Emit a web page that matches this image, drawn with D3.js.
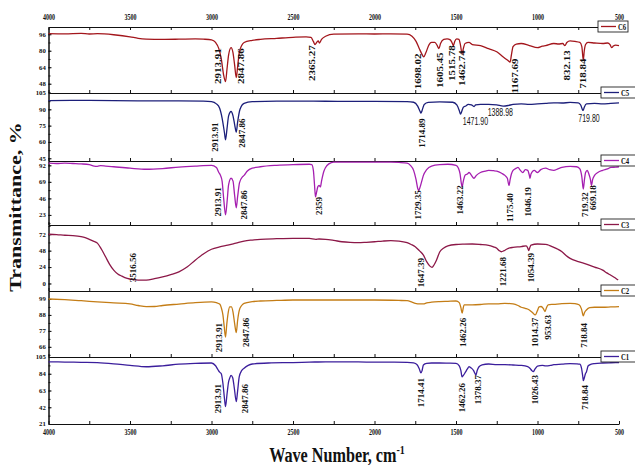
<!DOCTYPE html>
<html>
<head>
<meta charset="utf-8">
<script src="https://d3js.org/d3.v7.min.js"></script>
<style>
  body { margin: 0; background: #fff; }
  svg text { font-family: "Liberation Serif", "Times New Roman", serif; font-weight: bold; fill: #111; }
  .axis path, .axis line { stroke: #111; stroke-width: 1; }
</style>
</head>
<body>
<svg id="chart" width="635" height="465"></svg>
<script>
// wave number ticks (top + bottom axes)
var wnTicks = [4000, 3500, 3000, 2500, 2000, 1500, 1000, 500];

// ---- C6 ----
var c6Ticks = [48, 64, 80, 96];
var c6Domain = [39, 103];
var c6Data = [[4000,96.5],[3900,96.3],[3800,96.8],[3750,96.2],[3700,96.5],[3600,95.5],[3500,93.5],[3450,92],[3400,91.3],[3300,91],[3200,91.2],[3100,91.5],[3050,91.2],[3000,90.5],[2975,88],[2955,82],[2940,72],[2925,56],[2914,50],[2905,62],[2895,76],[2880,83],[2868,78],[2858,66],[2848,54],[2840,64],[2830,78],[2815,85],[2800,88],[2750,90],[2700,91],[2600,92],[2500,93],[2420,93.5],[2390,93],[2375,89],[2365,86],[2355,88],[2345,89.5],[2338,87.5],[2325,91],[2300,94],[2250,96],[2100,96.3],[2000,96.2],[1900,96.3],[1800,96],[1770,94],[1745,89],[1725,82],[1710,77],[1698,74],[1685,78],[1665,86],[1650,88],[1630,88],[1615,85],[1605,82],[1595,87],[1575,91],[1555,91.5],[1535,90.5],[1525,88],[1516,85],[1508,89],[1495,91.5],[1482,91],[1472,85],[1463,77],[1455,82],[1445,87],[1420,88],[1400,86],[1350,85],[1300,82],[1250,79],[1210,74],[1185,71],[1168,69],[1160,76],[1150,84],[1130,86.5],[1100,87],[1050,85],[1000,83],[970,84.5],[950,85],[900,87],[870,86.5],[845,87],[832,85],[820,88],[800,89.5],[770,89],[740,88],[728,84],[719,71],[713,80],[705,86],[690,88],[650,87.5],[600,87],[570,87.5],[555,86],[545,83],[535,84.5],[520,85.5],[500,85]];
// [label, anchor wave number, anchor transmittance]
var c6Peaks = [["2913.91",2956,82.3],["2847.86",2818,82.3],["2365.27",2379,85.3],["1698.02",1734,77.4],["1605.45",1599,78.4],["1515.78",1525,85.3],["1462.74",1464,80.4],["1167.69",1139,72.5],["832.13",819,80.4],["718.84",721,72.5]];

// ---- C5 ----
var c5Ticks = [45, 60, 75, 90, 105];
var c5Domain = [42.5, 105];
var c5Data = [[4000,98],[3800,98.2],[3600,98],[3400,97.8],[3200,97.8],[3050,97.5],[3000,97],[2970,95],[2950,91],[2935,82],[2920,68],[2914,62],[2905,72],[2895,84],[2880,88],[2868,84],[2858,76],[2848,69],[2840,78],[2825,90],[2800,95.5],[2750,97],[2600,97.5],[2400,97.5],[2200,97.3],[2000,97.3],[1800,97],[1760,96.5],[1735,93],[1720,88],[1715,86.5],[1708,89],[1695,94.5],[1670,96.3],[1600,96.8],[1520,96.5],[1495,94],[1480,89],[1472,85.5],[1465,88],[1455,92],[1440,93],[1425,94.5],[1405,94],[1395,93],[1389,92.5],[1380,94],[1350,94.5],[1300,94.5],[1250,94],[1210,93],[1180,93.5],[1150,94.5],[1100,95],[1050,94.5],[1000,95],[950,95.5],[900,96],[850,95.8],[800,96.3],[750,96],[735,94],[725,90],[720,89],[713,92],[700,95],[650,95.5],[600,95],[550,95.5],[500,96]];
var c5Peaks = [["2913.91",2975,78],["2847.86",2809,81.5],["1714.89",1710,81.5]];
var c5Notes = [["1471.90",1381,79.2],["1388.98",1228,87],["719.80",684,81.5]];

// ---- C4 ----
var c4Ticks = [23, 46, 69, 92];
var c4Domain = [9, 98];
var c4Data = [[4000,95],[3950,94.5],[3900,95],[3850,94.5],[3800,94],[3750,93],[3720,91],[3700,90.6],[3680,91.5],[3650,91],[3600,90],[3500,88],[3400,86.5],[3300,87.5],[3200,89.6],[3100,91],[3000,92],[2970,89],[2955,82],[2945,78],[2935,70],[2925,45],[2914,23],[2905,40],[2895,65],[2880,74],[2868,70],[2858,50],[2848,33],[2840,48],[2828,68],[2810,76],[2800,78],[2780,84],[2750,88],[2700,90],[2600,92],[2500,93],[2400,93.5],[2385,93],[2375,85],[2368,65],[2362,48],[2355,55],[2348,62],[2340,64],[2332,62],[2325,70],[2310,84],[2300,89],[2280,94],[2250,96.5],[2100,96.5],[2000,96.3],[1900,96.5],[1850,96],[1800,95],[1780,92],[1760,85],[1745,72],[1735,60],[1729,57],[1720,62],[1710,70],[1700,78],[1680,86],[1650,91],[1600,93],[1550,93.5],[1500,92],[1485,88],[1475,80],[1468,68],[1463,62],[1455,70],[1445,78],[1430,80],[1420,82],[1405,78],[1390,74],[1375,78],[1350,82],[1320,84],[1300,85],[1270,84.5],[1250,84],[1220,81],[1200,78],[1185,74],[1175,64],[1168,72],[1160,80],[1150,85],[1130,88],[1120,89],[1105,85],[1090,82],[1075,86],[1060,85],[1050,78],[1046,74],[1040,80],[1020,85],[1000,82],[980,86],[950,88],[925,86],[900,85],[875,87],[850,89],[800,90.5],[760,90],[740,87],[728,76],[719,59],[712,72],[705,82],[695,85],[685,80],[675,72],[669,64],[662,72],[650,78],[630,82],[600,85],[570,87],[550,89],[520,89.5],[500,90]];
var c4Peaks = [["2913.91",2962,61.6],["2847.86",2797,57.5],["2359",2342,47.8],["1729.35",1732,57.5],["1463.22",1472,64.4],["1175.40",1169,53.3],["1046.19",1057,61.6],["719.32",709,54.7],["669.18",658,64.4]];

// ---- C3 ----
var c3Ticks = [0, 24, 48, 72];
var c3Domain = [-11, 85.5];
var c3Data = [[4000,72],[3950,71.5],[3900,70.5],[3850,70],[3800,68.5],[3775,67],[3750,64.6],[3725,62],[3700,59],[3675,50],[3650,39],[3625,28],[3600,19.5],[3575,14],[3550,10.7],[3517,7.3],[3480,5.5],[3450,4.8],[3400,5],[3350,7],[3300,9.7],[3250,13],[3200,17],[3150,24],[3100,34],[3050,43],[3000,50],[2950,53.5],[2900,56],[2850,59],[2800,62],[2750,63.5],[2700,64.6],[2600,65.5],[2500,66],[2400,65.8],[2360,64.5],[2340,65],[2300,64.6],[2250,63],[2200,61],[2150,60],[2100,59.6],[2050,60.2],[2000,61],[1950,62],[1900,62.6],[1850,62],[1800,59.6],[1775,57],[1750,53.8],[1725,48],[1700,41.5],[1680,32],[1660,25.4],[1647,23.5],[1635,27],[1620,34],[1600,46],[1575,52],[1550,55],[1500,57],[1450,57.5],[1400,57.7],[1350,57],[1300,55.8],[1270,53.5],[1250,51.4],[1235,48],[1222,46.4],[1205,48],[1190,50],[1170,52],[1150,52.8],[1100,54],[1070,55],[1060,52],[1054,48],[1048,52],[1040,56],[1000,57.7],[950,57.3],[925,55.5],[900,52.8],[875,50],[850,46.4],[825,41],[800,36.7],[750,32],[700,28.3],[650,24],[600,19.5],[575,15.5],[550,12],[530,9],[510,5.8],[505,5]];
var c3Peaks = [["3516.56",3482,44.5],["1647.39",1712,37.2],["1221.68",1210,38.6],["1054.39",1036,44.5]];

// ---- C2 ----
var c2Ticks = [66, 77, 88, 99];
var c2Domain = [59, 104.5];
var c2Data = [[4000,99],[3900,98.5],[3800,97.8],[3700,97],[3600,96.3],[3500,95.6],[3450,94.5],[3400,93.7],[3350,93.8],[3300,94.5],[3200,95.5],[3100,96.5],[3000,97],[2970,96.5],[2950,95.5],[2940,93],[2930,88],[2922,80],[2914,72.7],[2906,82],[2897,90],[2888,93.5],[2878,93.5],[2868,90],[2858,82],[2848,75.8],[2840,84],[2830,91],[2815,94.5],[2800,96],[2750,97.2],[2700,97.6],[2600,98],[2500,98.3],[2400,98.3],[2200,98.3],[2000,98.3],[1850,98],[1800,97.8],[1770,96.8],[1750,96],[1720,95.6],[1700,95.6],[1680,96.3],[1650,96.8],[1600,97.2],[1550,97.4],[1500,97.6],[1480,96.5],[1470,93],[1462,89.2],[1457,92],[1450,95],[1400,95],[1350,95.2],[1300,95.6],[1250,95.6],[1200,96],[1150,95.6],[1120,94.5],[1100,93.3],[1075,92.5],[1050,91.4],[1030,89.5],[1014,88],[1002,90.5],[990,93.5],[978,93.8],[965,92.5],[954,90.3],[945,93],[935,95],[900,95.3],[850,95.8],[800,96],[770,95.8],[745,95],[730,92],[719,87.3],[712,89.5],[700,91.4],[680,93],[650,93.3],[600,93.3],[550,93.5],[500,93.7]];
var c2Peaks = [["2913.91",2954,82.5],["2847.86",2790,86],["1462.26",1456,86],["1014.37",1016,86],["953.63",934,88],["718.84",713,82.5]];

// ---- C1 ----
var c1Ticks = [21, 42, 63, 84, 105];
var c1Domain = [21, 105];
var c1Data = [[4000,99],[3900,98.7],[3800,98.3],[3700,97.9],[3600,96.5],[3500,94.5],[3400,92.8],[3300,94],[3200,96],[3100,97],[3000,97.5],[2975,94],[2960,89],[2950,86],[2940,84],[2930,72],[2920,52],[2914,42.7],[2905,58],[2895,74],[2888,78.7],[2880,82],[2870,79],[2860,66],[2848,49],[2840,62],[2830,80],[2815,88],[2800,91],[2775,94.5],[2750,96.2],[2650,97.5],[2500,98],[2400,98.5],[2300,99],[2100,98.8],[2000,98.6],[1900,98.5],[1800,98.3],[1760,97.5],[1740,95.5],[1725,90],[1715,85],[1708,88],[1700,95],[1680,97],[1650,97.5],[1600,97.5],[1550,97.3],[1500,97],[1480,94],[1470,88],[1463,80],[1455,82],[1445,85],[1430,90],[1420,92.8],[1405,91],[1392,88],[1385,85],[1378,82.4],[1370,88],[1360,92.5],[1340,95],[1300,96.2],[1250,95.5],[1200,95.4],[1150,95],[1100,94.5],[1060,93],[1045,90.5],[1035,88],[1026,86.6],[1015,90],[1000,93.7],[970,94.5],[950,93.8],[920,94.5],[900,95.4],[850,96],[800,96.8],[760,96.5],[740,96],[730,91],[722,80],[719,75.3],[714,78],[706,84],[700,86.2],[695,90],[690,93.7],[670,96],[650,96.8],[600,97.5],[550,97.8],[500,98]];
var c1Peaks = [["2913.91",2960,71.1],["2847.86",2795,71.1],["1714.41",1712,78.7],["1462.26",1460,72.4],["1378.37",1364,82.4],["1026.43",1012,82.4],["718.84",709,69.9]];

var panels = [
  { name: "C6", data: c6Data, domain: c6Domain, ticks: c6Ticks, peaks: c6Peaks, color: "#a3161c" },
  { name: "C5", data: c5Data, domain: c5Domain, ticks: c5Ticks, peaks: c5Peaks, color: "#1c1f7a" },
  { name: "C4", data: c4Data, domain: c4Domain, ticks: c4Ticks, peaks: c4Peaks, color: "#a51fb0" },
  { name: "C3", data: c3Data, domain: c3Domain, ticks: c3Ticks, peaks: c3Peaks, color: "#8c1848" },
  { name: "C2", data: c2Data, domain: c2Domain, ticks: c2Ticks, peaks: c2Peaks, color: "#c47d16" },
  { name: "C1", data: c1Data, domain: c1Domain, ticks: c1Ticks, peaks: c1Peaks, color: "#3b1e9c" }
];

var svg = d3.select("#chart");
var x = d3.scaleLinear().domain([4000, 500]).range([48.5, 619]);
var tops = [27, 93, 161, 225, 291, 357], bottom = 424;
var allWn = d3.range(4000, 499, -250);

// top axis
var topAxis = d3.axisTop(x).tickValues(allWn).tickSize(-3).tickSizeOuter(0).tickPadding(6)
  .tickFormat(function (d) { return wnTicks.indexOf(d) >= 0 ? d : ""; });
var gTop = svg.append("g").attr("class", "axis").attr("transform", "translate(0," + tops[0] + ")").call(topAxis);
gTop.selectAll("text").style("font-size", "7.5px").attr("transform", "scale(0.8,1.1)");

panels.forEach(function (p, i) {
  var y0 = tops[i], y1 = i < panels.length - 1 ? tops[i + 1] : bottom;
  var y = d3.scaleLinear().domain(p.domain).range([y1, y0]);
  var g = svg.append("g");

  // bottom edge of the panel
  var last = i === panels.length - 1;
  var bAxis = d3.axisBottom(x).tickValues(allWn).tickSize(-3).tickSizeOuter(0).tickPadding(5)
    .tickFormat(function (d) { return last && wnTicks.indexOf(d) >= 0 ? d : ""; });
  var gb = g.append("g").attr("class", "axis").attr("transform", "translate(0," + y1 + ")").call(bAxis);
  gb.selectAll("text").style("font-size", "7.5px").attr("transform", "scale(0.8,1.1)");

  // left axis with minor ticks
  var step = p.ticks[1] - p.ticks[0];
  var minor = d3.range(p.ticks[0] - step / 2, p.domain[1], step / 2).filter(function (v) { return v > p.domain[0] && v < p.domain[1]; });
  g.append("g").attr("class", "axis").attr("transform", "translate(48.5,0)")
    .call(d3.axisLeft(y).tickValues(minor).tickSize(-2).tickSizeOuter(0).tickFormat(""));
  var gl = g.append("g").attr("class", "axis").attr("transform", "translate(48.5,0)")
    .call(d3.axisLeft(y).tickValues(p.ticks).tickSize(-3).tickSizeOuter(0).tickPadding(3));
  gl.selectAll("text").style("font-size", "7.5px").attr("transform", "scale(0.9,0.8)");

  // spectrum
  var line = d3.line()
    .x(function (d) { return x(d[0]); })
    .y(function (d) { return y(d[1]); })
    .curve(d3.curveMonotoneX);
  g.append("path").datum(p.data)
    .attr("d", line)
    .attr("fill", "none")
    .attr("stroke", p.color)
    .attr("stroke-width", 1.3)
    .attr("stroke-linejoin", "round");

  // peak labels (rotated)
  var labelT = i === 0 ? "rotate(-90) scale(1,0.72)" : "rotate(-90) scale(0.95,0.85)";
  var fs = i === 0 ? 11 : 9.5;
  g.selectAll(".peak").data(p.peaks).enter().append("text")
    .attr("class", "peak")
    .attr("transform", function (d) { return "translate(" + x(d[1]) + "," + y(d[2]) + ") " + labelT; })
    .attr("text-anchor", "end")
    .attr("dy", "0.35em")
    .style("font-size", fs + "px")
    .text(function (d) { return d[0]; });

  if (p.name === "C5") {
    g.selectAll(".note").data(c5Notes).enter().append("text")
      .attr("class", "note")
      .attr("transform", function (d) { return "translate(" + x(d[1]) + "," + y(d[2]) + ") scale(0.78,1.2)"; })
      .attr("text-anchor", "middle")
      .attr("dy", "0.35em")
      .style("font-family", "'Liberation Sans', Arial, sans-serif")
      .style("font-weight", "normal")
      .style("font-size", "9px")
      .text(function (d) { return d[0]; });
  }

  // legend box
  var lg = g.append("g").attr("transform", "translate(" + (i === 0 ? 598 : 601) + "," + (y0 - 6) + ")");
  lg.append("rect").attr("width", i === 0 ? 30 : 36).attr("height", 11)
    .attr("fill", "#fff").attr("stroke", "#222").attr("stroke-width", 0.9);
  lg.append("line").attr("x1", 3).attr("x2", 18).attr("y1", 5.5).attr("y2", 5.5)
    .attr("stroke", p.color).attr("stroke-width", 1.3);
  lg.append("text").attr("x", 20).attr("y", 5.5).attr("dy", "0.35em")
    .attr("transform", "translate(20,0) scale(0.75,1) translate(-20,0)")
    .style("font-size", "9px").text(p.name);
});

// axis titles
svg.append("text")
  .attr("transform", "translate(21,207) rotate(-90) scale(1,0.77)")
  .attr("text-anchor", "middle")
  .style("font-size", "22px")
  .text("Transmittance, %");

var xt = svg.append("text")
  .attr("transform", "translate(337,462) scale(0.77,1)")
  .attr("text-anchor", "middle")
  .style("font-size", "21px");
xt.append("tspan").text("Wave Number, cm");
xt.append("tspan").attr("dy", -8).style("font-size", "13px").text("-1");
</script>
</body>
</html>
